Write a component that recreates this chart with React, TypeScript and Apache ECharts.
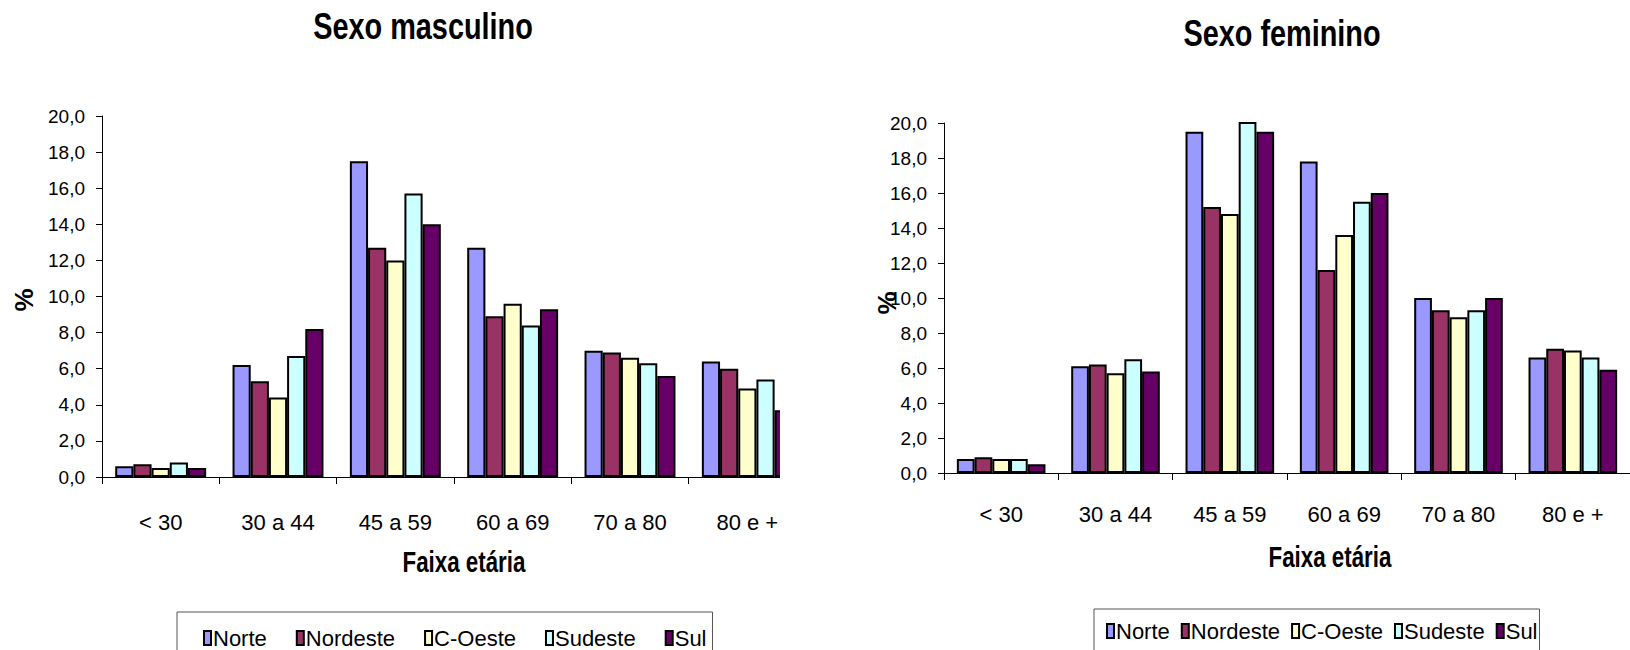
import React, { useEffect, useRef } from "react";
import * as echarts from "echarts";

const categories = ["< 30", "30 a 44", "45 a 59", "60 a 69", "70 a 80", "80 e +"];
const regions = ["Norte", "Nordeste", "C-Oeste", "Sudeste", "Sul"];
const colors = ["#9999FF", "#993366", "#FFFFCC", "#CCFFFF", "#660066"];
const yTicks = { min: 0, max: 20, interval: 2 };

const maleNorte = [0.6, 6.2, 17.5, 12.7, 7.0, 6.4];
const maleNordeste = [0.7, 5.3, 12.7, 8.9, 6.9, 6.0];
const maleCOeste = [0.5, 4.4, 12.0, 9.6, 6.6, 4.9];
const maleSudeste = [0.8, 6.7, 15.7, 8.4, 6.3, 5.4];
const maleSul = [0.5, 8.2, 14.0, 9.3, 5.6, 3.7];

const femNorte = [0.8, 6.1, 19.5, 17.8, 10.0, 6.6];
const femNordeste = [0.9, 6.2, 15.2, 11.6, 9.3, 7.1];
const femCOeste = [0.8, 5.7, 14.8, 13.6, 8.9, 7.0];
const femSudeste = [0.8, 6.5, 21.0, 15.5, 9.3, 6.6];
const femSul = [0.5, 5.8, 19.5, 16.0, 10.0, 5.9];

const maleSeries = [maleNorte, maleNordeste, maleCOeste, maleSudeste, maleSul];
const femSeries = [femNorte, femNordeste, femCOeste, femSudeste, femSul];

const FONT = "'Liberation Sans', Arial, sans-serif";

function label(text: string, x: number, y: number, size: number, scaleX: number, rotation = 0) {
  return {
    type: "text",
    x,
    y,
    rotation,
    scaleX,
    z: 101,
    style: {
      text,
      fontSize: size,
      fontWeight: "bold",
      fontFamily: FONT,
      fill: "#000",
      textAlign: "center",
      textVerticalAlign: "middle",
    },
  };
}

export default function App() {
  const ref = useRef<HTMLDivElement>(null);
  useEffect(() => {
    if (!ref.current) return;
    const chart = echarts.init(ref.current, null, { renderer: "svg" });

    const mkX = (gi: number, margin: number) => ({
      type: "category",
      gridIndex: gi,
      data: categories,
      boundaryGap: true,
      axisLine: { show: true, lineStyle: { color: "#000", width: 1 } },
      axisTick: { show: true, interval: 0, length: 7, lineStyle: { color: "#000" } },
      axisLabel: { interval: 0, margin, color: "#000", fontSize: 22, fontFamily: FONT },
    });
    const mkY = (gi: number) => ({
      type: "value",
      gridIndex: gi,
      min: yTicks.min,
      max: yTicks.max,
      interval: yTicks.interval,
      axisLine: { show: true, lineStyle: { color: "#000", width: 1 } },
      axisTick: { show: true, length: 6, lineStyle: { color: "#000" } },
      splitLine: { show: false },
      axisLabel: {
        margin: 17,
        color: "#000",
        fontSize: 19,
        fontFamily: FONT,
        formatter: (v: number) => v.toFixed(1).replace(".", ","),
      },
    });

    const series: any[] = [];
    [maleSeries, femSeries].forEach((arr, gi) => {
      arr.forEach((data, i) => {
        series.push({
          type: "bar",
          name: regions[i],
          xAxisIndex: gi,
          yAxisIndex: gi,
          data,
          barGap: "0%",
          barCategoryGap: "22.5%",
          clip: true,
          itemStyle: { color: colors[i], borderColor: "#000", borderWidth: 2 },
        });
      });
    });

    const legendBase = {
      orient: "horizontal",
      data: regions,
      icon: "rect",
      itemWidth: 7,
      itemHeight: 14,
      selectedMode: false,
      borderColor: "#555",
      borderWidth: 1,
      backgroundColor: "#fff",
    };

    chart.setOption({
      animation: false,
      backgroundColor: "#fff",
      grid: [
        { left: 102, top: 116, width: 704, height: 361 },
        { left: 944, top: 123, width: 707, height: 350 },
      ],
      xAxis: [mkX(0, 34), mkX(1, 30)],
      yAxis: [mkY(0), mkY(1)],
      legend: [
        {
          ...legendBase,
          left: 177,
          top: 612,
          padding: [15, 6, 20, 26],
          itemGap: 29,
          textStyle: { fontSize: 22, fontFamily: FONT, color: "#000", padding: [0, 0, 0, -3] },
        },
        {
          ...legendBase,
          left: 1094,
          top: 609,
          padding: [11, 2, 20, 12],
          itemGap: 11,
          textStyle: { fontSize: 22, fontFamily: FONT, color: "#000", padding: [0, 0, 0, -3] },
        },
      ],
      series,
      graphic: [
        {
          type: "rect",
          z: 100,
          shape: { x: 780, y: 90, width: 85, height: 402 },
          style: { fill: "#fff" },
        },
        label("Sexo masculino", 423, 26, 37, 0.78),
        label("Sexo feminino", 1282, 33, 37, 0.78),
        label("Faixa etária", 464, 562, 29, 0.77),
        label("Faixa etária", 1330, 557, 29, 0.77),
        label("%", 24, 300, 26, 1, Math.PI / 2),
        label("%", 887, 303, 26, 1, Math.PI / 2),
      ],
    });
    return () => chart.dispose();
  }, []);

  return (
    <div
      ref={ref}
      style={{ position: "absolute", left: 0, top: 0, width: 1630, height: 650, background: "#fff" }}
    />
  );
}
